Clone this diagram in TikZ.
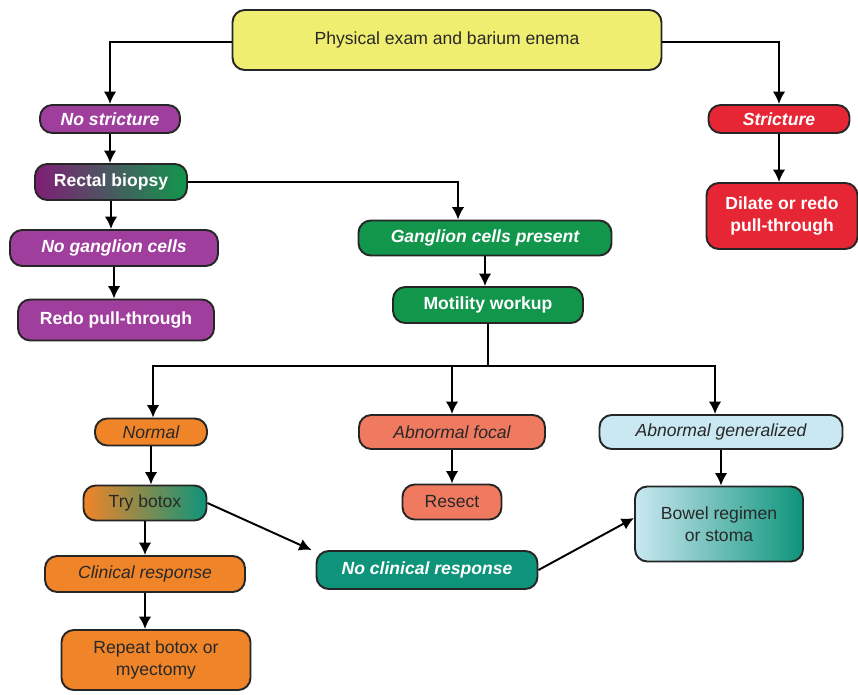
\documentclass[tikz,border=0pt]{standalone}
\usepackage{fontspec}
\setmainfont{Liberation Sans}
\usetikzlibrary{positioning,arrows.meta}
\definecolor{examyellow}{RGB}{240,238,112}
\definecolor{plum}{RGB}{160,62,158}
\definecolor{plumdark}{RGB}{128,30,118}
\definecolor{leafgreen}{RGB}{18,150,76}
\definecolor{alarmred}{RGB}{230,38,52}
\definecolor{botoxorange}{RGB}{240,132,40}
\definecolor{salmon}{RGB}{240,122,96}
\definecolor{paleblue}{RGB}{202,232,242}
\definecolor{teal}{RGB}{14,148,122}
\definecolor{textdark}{RGB}{40,40,40}

\begin{document}
\begin{tikzpicture}[
    x=0.02cm, y=-0.02cm,
    >={Latex[black, length=7pt, width=7pt]},
    line width=1.1pt,
    flowbox/.style={
        rounded corners=7pt, draw=black!85, line width=1.1pt,
        inner sep=0pt, align=center
      },
    boxsize/.style 2 args={minimum width={#1*0.02cm}, minimum height={#2*0.02cm}},
    plaintext/.style={font=\fontsize{10}{12.5}\selectfont, text=textdark},
    plainitalic/.style={font=\fontsize{10}{12.5}\selectfont\itshape, text=textdark},
    boldtext/.style={font=\fontsize{10}{12.5}\selectfont\bfseries, text=white},
    bolditalic/.style={font=\fontsize{10}{12.5}\selectfont\bfseries\itshape, text=white},
  ]
  \useasboundingbox (0,0) rectangle (858,695);
  % top
  \node[flowbox, plaintext, fill=examyellow, boxsize={429}{60}] (exam) at (447,40) {Physical exam and barium enema};
  % left branch
  \node[flowbox, bolditalic, fill=plum, boxsize={140}{28}] (nostr) at (110,119) {No stricture};
  \node[flowbox, boldtext, left color=plumdark, right color=leafgreen, boxsize={152}{36}] (biopsy) at (111,182) {Rectal biopsy};
  \node[flowbox, bolditalic, fill=plum, boxsize={208}{36}] (noganglion) at (114,248) {No ganglion cells};
  \node[flowbox, boldtext, fill=plum, boxsize={196}{41}] (redo) at (116,320) {Redo pull-through};
  % right branch
  \node[flowbox, bolditalic, fill=alarmred, boxsize={141}{28}] (stricture) at (779,119) {Stricture};
  \node[flowbox, boldtext, fill=alarmred, boxsize={151}{66}] (dilate) at (782,216) {Dilate or redo\\pull-through};
  % middle
  \node[flowbox, bolditalic, fill=leafgreen, boxsize={253}{35}] (ganglion) at (485,238) {Ganglion cells present};
  \node[flowbox, boldtext, fill=leafgreen, boxsize={190}{36}] (motility) at (488,305) {Motility workup};
  % motility results
  \node[flowbox, plainitalic, fill=botoxorange, boxsize={112}{27}] (normal) at (151,432) {Normal};
  \node[flowbox, plainitalic, fill=salmon, boxsize={186}{34}] (abfocal) at (452,432) {Abnormal focal};
  \node[flowbox, plainitalic, fill=paleblue, boxsize={243}{34}] (abgeneral) at (721,432) {Abnormal generalized};
  \node[flowbox, plaintext, left color=botoxorange, right color=teal, boxsize={123}{35}] (botox) at (145,503) {Try botox};
  \node[flowbox, plaintext, fill=salmon, boxsize={99}{35}] (resect) at (452,502) {Resect};
  \node[flowbox, plaintext, left color=paleblue, right color=teal, boxsize={168}{75}] (bowel) at (719,524) {Bowel regimen\\or stoma};
  \node[flowbox, plainitalic, fill=botoxorange, boxsize={200}{36}] (clinical) at (145,574) {Clinical response};
  \node[flowbox, bolditalic, fill=teal, boxsize={221}{38}] (noclinical) at (427,570) {No clinical response};
  \node[flowbox, plaintext, fill=botoxorange, boxsize={189}{60}] (repeat) at (156,660) {Repeat botox or\\myectomy};
  \coordinate (split) at (488,366);

  \draw[->] ([yshift=-0.04cm]exam.west) -| (nostr.north);
  \draw[->] ([yshift=-0.04cm]exam.east) -| (stricture.north);
  \draw[->] (biopsy.east) -| ([xshift=-0.54cm]ganglion.north);
  \draw (motility.south) -- (split);
  \draw[->] (split) -| ([xshift=0.04cm]normal.north);
  \draw[->] (split) -| (abfocal.north);
  \draw[->] (split) -| ([xshift=-0.12cm]abgeneral.north);
  \path[->]
    (nostr) edge (nostr |- biopsy.north)
    (biopsy) edge (biopsy |- noganglion.north)
    (noganglion) edge (noganglion |- redo.north)
    (stricture) edge (stricture |- dilate.north)
    (ganglion) edge (ganglion |- motility.north)
    (normal) edge (normal |- botox.north)
    (botox) edge (botox |- clinical.north)
    (clinical) edge (clinical |- repeat.north)
    (abfocal) edge (abfocal |- resect.north)
    (abgeneral) edge (abgeneral |- bowel.north)
    (botox.east) edge ([xshift=-0.08cm]noclinical.north west)
    (noclinical.east) edge ([yshift=0.12cm]bowel.west)
  ;
\end{tikzpicture}
\end{document}
